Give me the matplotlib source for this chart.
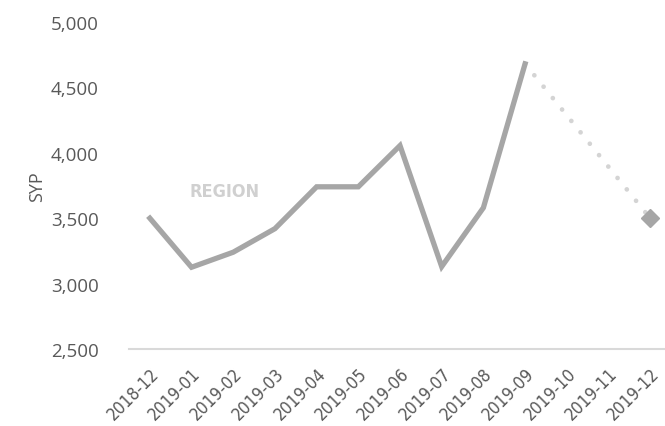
import numpy as np
import matplotlib
matplotlib.use("Agg")
import matplotlib.pyplot as plt
import matplotlib.transforms as mtransforms
from matplotlib import font_manager

months = ["2018-12", "2019-01", "2019-02", "2019-03", "2019-04", "2019-05", "2019-06",
          "2019-07", "2019-08", "2019-09", "2019-10", "2019-11", "2019-12"]
price = [3500, 3125, 3240, 3420, 3740, 3740, 4055, 3130, 3580, 4680]  # 2018-12 .. 2019-09
last_month = "2019-12"
last_price = 3500

# narrow font for the month labels if there is one
narrow = None
narrow_bold = None
for fpath in font_manager.findSystemFonts():
    low = fpath.lower().replace(" ", "")
    if narrow is None and ("liberationsansnarrow-regular" in low or "dejavusanscondensed.ttf" in low):
        narrow = fpath
    if narrow_bold is None and ("liberationsansnarrow-bold.ttf" in low or "dejavusanscondensed-bold.ttf" in low):
        narrow_bold = fpath

x = np.arange(len(months))
n = len(price)

fig = plt.figure(figsize=(6.65, 4.27), dpi=100)
# axes runs a bit past the right edge like the original
ax = fig.add_axes([129/665, 1 - 350/427, 542/665, 327/427])

line_col = "#a6a6a6"
txt_col = "#595959"

ax.plot(x[:n], price, color=line_col, lw=3.8, solid_joinstyle="miter", zorder=3)
i_last = months.index(last_month)
ax.plot([x[n-1], x[i_last]], [price[-1], last_price], color="#d4d4d4", lw=3.4,
        linestyle=(0, (0.01, 3.1)), dash_capstyle="round", zorder=2)
ax.plot([x[i_last]], [last_price], marker="D", ms=9, color=line_col, zorder=4)

ax.set_xlim(-0.5, len(months) - 0.5)
ax.set_ylim(2500, 5000)
ax.set_yticks(np.arange(2500, 5001, 500))
ax.set_yticklabels([f"{v:,}" for v in range(2500, 5001, 500)],
                   fontfamily="Open Sans", fontsize=13.5, color=txt_col)
ax.set_xticks(x)
if narrow:
    xfont = font_manager.FontProperties(fname=narrow, size=12.5)
else:
    xfont = font_manager.FontProperties(family="DejaVu Sans", stretch="condensed", size=11)
ax.set_xticklabels(months, rotation=45, ha="right", rotation_mode="anchor",
                   fontproperties=xfont, color=txt_col)
shift = mtransforms.ScaledTranslation(-5/100, 0, fig.dpi_scale_trans)
for lab in ax.get_xticklabels():
    lab.set_transform(lab.get_transform() + shift)
ax.tick_params(axis="both", length=0)
ax.tick_params(axis="y", pad=22)
ax.tick_params(axis="x", pad=11)

for s in ["top", "right", "left"]:
    ax.spines[s].set_visible(False)
ax.spines["bottom"].set_color("#d9d9d9")
ax.spines["bottom"].set_linewidth(1.5)

ax.set_ylabel("SYP", fontfamily="Open Sans", fontsize=13, color=txt_col)
ax.yaxis.set_label_coords(-0.153, 0.5)

if narrow_bold:
    rfont = font_manager.FontProperties(fname=narrow_bold, size=13)
else:
    rfont = font_manager.FontProperties(family="DejaVu Sans", stretch="condensed", weight="bold", size=12)
ax.text(1.8, 3710, "REGION", fontproperties=rfont, color="#d0d0d0", ha="center", va="center")

fig.savefig("out.png", dpi=100)
